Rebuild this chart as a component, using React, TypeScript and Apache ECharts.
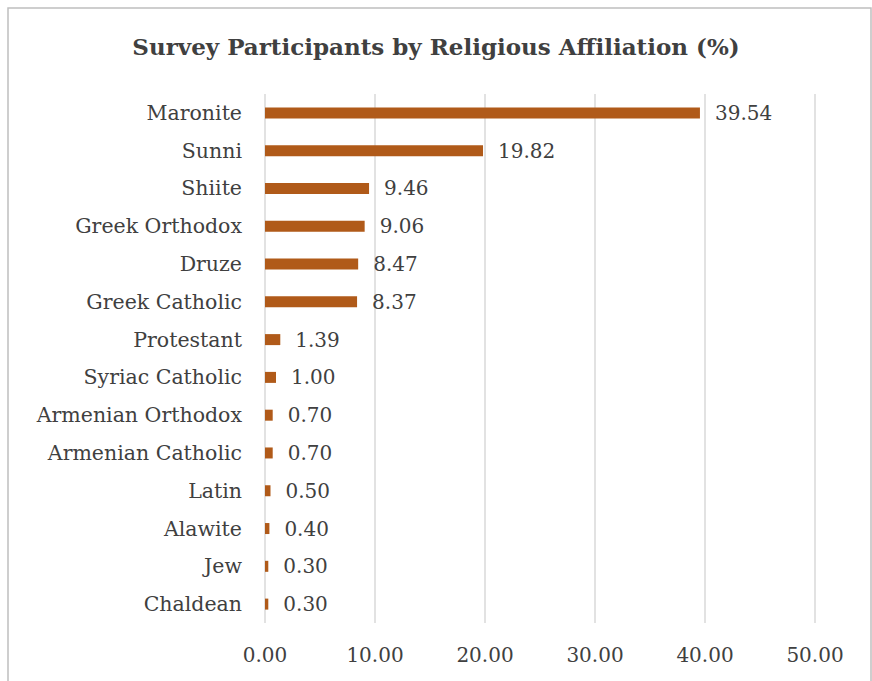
import React, { useEffect, useRef } from "react";
import * as echarts from "echarts";

const categories = [
  "Maronite",
  "Sunni",
  "Shiite",
  "Greek Orthodox",
  "Druze",
  "Greek Catholic",
  "Protestant",
  "Syriac Catholic",
  "Armenian Orthodox",
  "Armenian Catholic",
  "Latin",
  "Alawite",
  "Jew",
  "Chaldean",
];
const values = [39.54, 19.82, 9.46, 9.06, 8.47, 8.37, 1.39, 1.0, 0.7, 0.7, 0.5, 0.4, 0.3, 0.3];
const title = "Survey Participants by Religious Affiliation (%)";

const FONT = "'DejaVu Serif', serif";
const TEXT = "#404040";

export default function App() {
  const ref = useRef<HTMLDivElement>(null);
  useEffect(() => {
    if (!ref.current) return;
    const chart = echarts.init(ref.current, undefined, { renderer: "svg" });
    chart.setOption({
      animation: false,
      backgroundColor: "#ffffff",
      title: {
        text: title,
        left: "center",
        top: 30,
        textStyle: { fontFamily: FONT, fontSize: 23, fontWeight: "bold", color: TEXT },
      },
      graphic: [
        {
          type: "rect",
          shape: { x: 8, y: 8, width: 863, height: 720 },
          style: { fill: "none", stroke: "#BFBFBF", lineWidth: 1.5 },
          silent: true,
        },
      ],
      grid: { left: 265, right: 57, top: 94, bottom: 58, containLabel: false },
      xAxis: {
        type: "value",
        min: 0,
        max: 50,
        interval: 10,
        axisLine: { show: false },
        axisTick: { show: false },
        splitLine: { show: true, lineStyle: { color: "#D9D9D9", width: 1.5 } },
        axisLabel: {
          margin: 22,
          fontFamily: FONT,
          fontSize: 20,
          color: TEXT,
          formatter: (v: number) => v.toFixed(2),
        },
      },
      yAxis: {
        type: "category",
        data: categories,
        inverse: true,
        axisLine: { show: false },
        axisTick: { show: false },
        axisLabel: { margin: 23, fontFamily: FONT, fontSize: 20.5, color: TEXT },
      },
      series: [
        {
          type: "bar",
          data: values,
          barWidth: 11,
          itemStyle: { color: "#B05A19" },
          label: {
            show: true,
            position: "right",
            distance: 15,
            fontFamily: FONT,
            fontSize: 20,
            color: TEXT,
            formatter: (p: any) => Number(p.value).toFixed(2),
          },
        },
      ],
    });
    return () => chart.dispose();
  }, []);
  return (
    <div
      ref={ref}
      style={{ position: "fixed", left: 0, top: 0, width: 872, height: 681 }}
    />
  );
}
